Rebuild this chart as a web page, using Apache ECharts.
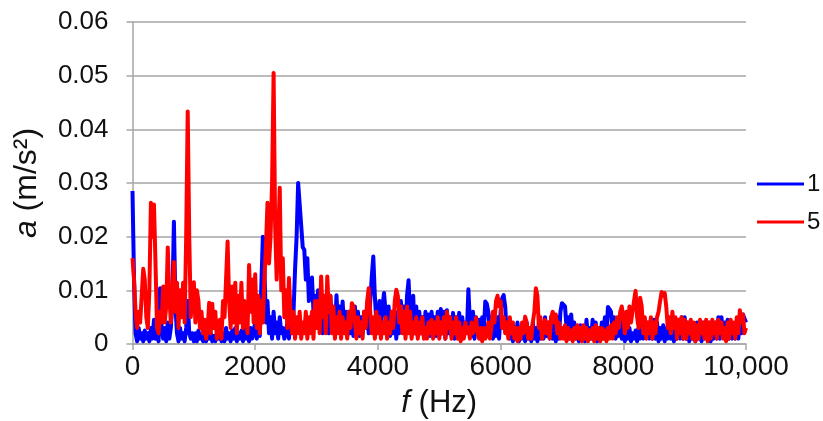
<!DOCTYPE html>
<html>
<head>
<meta charset="utf-8">
<script src="https://cdn.jsdelivr.net/npm/echarts@6/dist/echarts.min.js"></script>
<style>
html,body{margin:0;padding:0;background:#fff;}
#chart{width:823px;height:421px;}
</style>
</head>
<body>
<div id="chart"></div>
<script>
// sampling grid of the spectra (Hz)
const freqStep = 25;
const xTicks = [0, 2000, 4000, 6000, 8000, 10000];
const yTicks = [0, 0.01, 0.02, 0.03, 0.04, 0.05, 0.06];
const seriesNames = ['1', '5'];

// series "1" (blue), acceleration amplitude m/s^2, every 25 Hz from 0 to 10000 (one row = 500 Hz)
const accel1 = [
0.0285,0.012,0.002,0.0005,0.003,0.001,0.002,0.0005,0.0025,0.001,0.002,0.0005,0.003,0.001,0.0045,0.001,0.002,0.0005,0.0104,0.003,
0.001,0.003,0.0005,0.004,0.001,0.003,0.008,0.0228,0.007,0.002,0.0005,0.003,0.001,0.002,0.0005,0.003,0.008,0.002,0.001,0.002,
0.0005,0.002,0.0005,0.0025,0.001,0.0015,0.0005,0.002,0.0005,0.0025,0.001,0.002,0.0005,0.0015,0.0005,0.002,0.001,0.0025,0.0005,0.002,
0.0005,0.003,0.001,0.002,0.0005,0.0025,0.001,0.003,0.0005,0.002,0.001,0.0025,0.0005,0.003,0.001,0.002,0.0005,0.003,0.001,0.0025,
0.004,0.001,0.003,0.0015,0.011,0.020,0.014,0.004,0.008,0.002,0.005,0.001,0.006,0.002,0.004,0.001,0.005,0.002,0.003,0.001,
0.002,0.004,0.001,0.005,0.002,0.006,0.014,0.020,0.030,0.026,0.022,0.018,0.0176,0.012,0.016,0.008,0.011,0.0124,0.006,0.009,
0.004,0.010,0.003,0.008,0.002,0.0085,0.003,0.007,0.002,0.009,0.003,0.006,0.002,0.0091,0.003,0.007,0.002,0.0079,0.003,0.006,
0.0015,0.006,0.002,0.005,0.0015,0.007,0.002,0.006,0.0015,0.005,0.002,0.006,0.003,0.007,0.002,0.008,0.0125,0.0163,0.009,0.004,
0.002,0.008,0.003,0.007,0.0095,0.006,0.002,0.007,0.0015,0.006,0.002,0.005,0.001,0.006,0.002,0.008,0.003,0.007,0.002,0.009,
0.0119,0.005,0.003,0.009,0.002,0.007,0.0015,0.006,0.002,0.005,0.0015,0.006,0.002,0.0055,0.0015,0.006,0.002,0.005,0.0015,0.006,
0.0015,0.0065,0.002,0.006,0.001,0.0063,0.002,0.005,0.0015,0.0058,0.001,0.005,0.002,0.0058,0.001,0.005,0.0015,0.004,0.002,0.0102,
0.004,0.0015,0.006,0.001,0.005,0.002,0.0045,0.001,0.005,0.002,0.0079,0.0075,0.006,0.002,0.005,0.001,0.004,0.0015,0.005,0.001,
0.006,0.0085,0.0091,0.007,0.002,0.004,0.001,0.0035,0.0005,0.003,0.001,0.004,0.0005,0.003,0.001,0.0035,0.0005,0.004,0.001,0.003,
0.0005,0.004,0.001,0.003,0.0005,0.004,0.001,0.0035,0.001,0.005,0.0015,0.004,0.001,0.005,0.001,0.004,0.0005,0.005,0.001,0.006,
0.0076,0.0078,0.007,0.003,0.005,0.001,0.0055,0.002,0.004,0.001,0.003,0.0005,0.0035,0.001,0.003,0.0005,0.0045,0.001,0.003,0.001,
0.0045,0.001,0.004,0.0005,0.003,0.001,0.004,0.001,0.005,0.002,0.0069,0.0065,0.006,0.002,0.005,0.001,0.004,0.0015,0.005,0.001,
0.003,0.0005,0.0025,0.001,0.003,0.0005,0.002,0.001,0.0025,0.0005,0.003,0.001,0.0035,0.001,0.0045,0.0015,0.004,0.001,0.0045,0.001,
0.0045,0.001,0.004,0.0005,0.003,0.001,0.0035,0.0005,0.003,0.001,0.0045,0.001,0.004,0.0005,0.004,0.001,0.0035,0.001,0.005,0.001,
0.005,0.001,0.004,0.0005,0.004,0.001,0.0035,0.0005,0.004,0.001,0.003,0.0005,0.004,0.001,0.0035,0.001,0.004,0.0005,0.003,0.001,
0.004,0.001,0.005,0.001,0.005,0.0015,0.004,0.001,0.0045,0.001,0.004,0.001,0.0035,0.001,0.004,0.001,0.005,0.002,0.0055,0.0058,
0.004
];

// series "5" (red), same grid
const accel5 = [
0.016,0.012,0.006,0.003,0.006,0.004,0.009,0.014,0.012,0.005,0.003,0.010,0.0263,0.020,0.026,0.015,0.003,0.002,0.006,0.004,
0.0107,0.004,0.007,0.018,0.009,0.004,0.008,0.0153,0.006,0.0114,0.003,0.010,0.005,0.0114,0.004,0.020,0.0433,0.020,0.005,0.009,
0.0115,0.004,0.010,0.008,0.003,0.006,0.002,0.0045,0.001,0.003,0.0077,0.002,0.0075,0.003,0.006,0.001,0.004,0.0045,0.001,0.008,
0.005,0.012,0.0191,0.008,0.003,0.0107,0.004,0.0114,0.002,0.009,0.004,0.0114,0.003,0.008,0.005,0.002,0.0147,0.006,0.012,0.004,
0.013,0.003,0.009,0.002,0.008,0.004,0.012,0.018,0.0263,0.015,0.020,0.030,0.0505,0.022,0.012,0.020,0.0291,0.010,0.016,0.005,
0.010,0.003,0.0123,0.006,0.002,0.006,0.001,0.005,0.002,0.006,0.001,0.004,0.002,0.006,0.001,0.005,0.002,0.006,0.001,0.008,
0.003,0.008,0.002,0.0126,0.005,0.009,0.002,0.0126,0.006,0.009,0.002,0.007,0.001,0.005,0.002,0.006,0.001,0.005,0.002,0.004,
0.001,0.006,0.003,0.0076,0.007,0.004,0.001,0.005,0.002,0.004,0.001,0.006,0.003,0.008,0.0104,0.006,0.002,0.005,0.001,0.006,
0.002,0.005,0.001,0.004,0.002,0.005,0.001,0.004,0.002,0.006,0.003,0.008,0.0101,0.009,0.004,0.007,0.002,0.006,0.001,0.007,
0.002,0.006,0.001,0.004,0.002,0.005,0.001,0.004,0.002,0.005,0.001,0.003,0.001,0.004,0.002,0.0045,0.001,0.004,0.002,0.005,
0.001,0.004,0.002,0.005,0.001,0.006,0.003,0.005,0.001,0.004,0.002,0.005,0.001,0.004,0.0005,0.003,0.001,0.004,0.002,0.003,
0.001,0.004,0.002,0.003,0.0049,0.002,0.001,0.003,0.0005,0.003,0.001,0.002,0.004,0.001,0.003,0.006,0.004,0.008,0.009,0.007,
0.008,0.003,0.005,0.002,0.004,0.001,0.005,0.002,0.004,0.001,0.003,0.0005,0.003,0.001,0.004,0.002,0.0051,0.004,0.001,0.003,
0.001,0.004,0.006,0.0104,0.009,0.003,0.005,0.001,0.003,0.0045,0.002,0.004,0.001,0.005,0.006,0.004,0.0055,0.002,0.004,0.001,
0.003,0.001,0.0035,0.0005,0.003,0.001,0.0025,0.0005,0.003,0.001,0.0035,0.001,0.003,0.0005,0.0035,0.001,0.003,0.0005,0.0025,0.001,
0.003,0.0005,0.0035,0.001,0.003,0.0005,0.003,0.001,0.0025,0.0005,0.003,0.001,0.0035,0.001,0.004,0.002,0.005,0.003,0.006,0.007,
0.005,0.002,0.006,0.003,0.007,0.004,0.006,0.008,0.0099,0.005,0.003,0.0086,0.007,0.002,0.005,0.001,0.004,0.002,0.005,0.001,
0.004,0.002,0.005,0.006,0.008,0.0097,0.009,0.0095,0.007,0.003,0.005,0.002,0.006,0.003,0.005,0.001,0.0045,0.002,0.005,0.001,
0.0045,0.001,0.004,0.002,0.0045,0.001,0.004,0.0005,0.0035,0.001,0.0045,0.002,0.004,0.001,0.0045,0.0005,0.004,0.001,0.0045,0.002,
0.004,0.001,0.0045,0.002,0.004,0.001,0.003,0.0005,0.004,0.001,0.0045,0.002,0.004,0.001,0.005,0.002,0.0063,0.004,0.0055,0.002,
0.003
];

const toPairs = vals => vals.map((v, i) => [i * freqStep, v]);

const FONT = 'Liberation Sans, Arial, sans-serif';
const chart = echarts.init(document.getElementById('chart'), null, {renderer: 'canvas'});
chart.setOption({
  animation: false,
  backgroundColor: '#ffffff',
  grid: {left: 132.5, right: 77, top: 22, bottom: 77, containLabel: false, outerBoundsMode: 'none'},
  legend: {
    orient: 'vertical', left: 752, top: 167,
    data: seriesNames,
    icon: 'rect', itemWidth: 47, itemHeight: 3, itemGap: 14,
    textStyle: {fontFamily: FONT, fontSize: 24, color: '#111', lineHeight: 24, padding: [0, 0, 0, -2]}
  },
  xAxis: {
    type: 'value', min: xTicks[0], max: xTicks[xTicks.length - 1], interval: 2000,
    name: '{i|f} (Hz)', nameLocation: 'middle', nameGap: 44,
    nameTextStyle: {fontFamily: FONT, fontSize: 31, color: '#111', rich: {i: {fontFamily: FONT, fontSize: 31, fontStyle: 'italic', color: '#111'}}},
    axisLine: {show: true, lineStyle: {color: '#a6a6a6', width: 1.5}},
    axisTick: {show: true, length: 6, lineStyle: {color: '#a6a6a6', width: 1.5}},
    splitLine: {show: false},
    axisLabel: {fontFamily: FONT, fontSize: 28, color: '#111', margin: 9,
      formatter: v => v === 10000 ? '10,000' : String(v)}
  },
  yAxis: {
    type: 'value', min: yTicks[0], max: yTicks[yTicks.length - 1], interval: 0.01,
    name: '{i|a} (m/s²)', nameLocation: 'middle', nameGap: 89, nameRotate: 90,
    nameTextStyle: {fontFamily: FONT, fontSize: 32, color: '#111', rich: {i: {fontFamily: FONT, fontSize: 32, fontStyle: 'italic', color: '#111'}}},
    axisLine: {show: true, lineStyle: {color: '#a6a6a6', width: 1.5}},
    axisTick: {show: true, length: 6, lineStyle: {color: '#a6a6a6', width: 1.5}},
    splitLine: {show: true, lineStyle: {color: '#a6a6a6', width: 1.5}},
    axisLabel: {fontFamily: FONT, fontSize: 26, color: '#111', margin: 24,
      formatter: v => v === 0 ? '0' : v.toFixed(2)}
  },
  series: [
    {name: seriesNames[0], type: 'line', data: toPairs(accel1), showSymbol: false, symbol: 'none', sampling: null,
     lineStyle: {color: '#0000ff', width: 4, join: 'round'}, itemStyle: {color: '#0000ff'}, z: 2},
    {name: seriesNames[1], type: 'line', data: toPairs(accel5), showSymbol: false, symbol: 'none', sampling: null,
     lineStyle: {color: '#ff0000', width: 4, join: 'round'}, itemStyle: {color: '#ff0000'}, z: 3}
  ]
});
</script>
</body>
</html>
